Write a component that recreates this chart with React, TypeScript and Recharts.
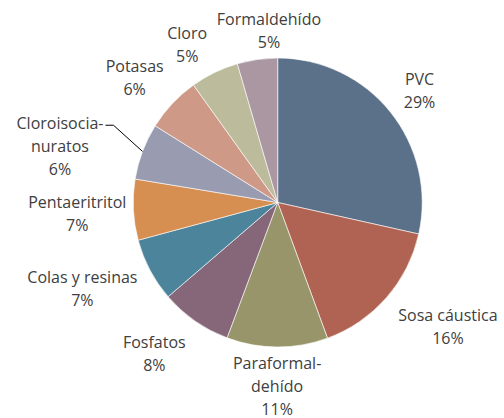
import { PieChart, Pie, Cell } from "recharts";

const products = [
  "PVC",
  "Sosa cáustica",
  "Paraformaldehído",
  "Fosfatos",
  "Colas y resinas",
  "Pentaeritritol",
  "Cloroisocianuratos",
  "Potasas",
  "Cloro",
  "Formaldehído",
];
const shares = [28.5, 15.9, 11.3, 8.0, 7.1, 6.8, 6.3, 6.2, 5.4, 4.5];
const pctLabels = ["29%", "16%", "11%", "8%", "7%", "7%", "6%", "6%", "5%", "5%"];
const nameLines = [
  ["PVC"],
  ["Sosa cáustica"],
  ["Paraformal-", "dehído"],
  ["Fosfatos"],
  ["Colas y resinas"],
  ["Pentaeritritol"],
  ["Cloroisocia-", "nuratos"],
  ["Potasas"],
  ["Cloro"],
  ["Formaldehído"],
];
const colors = [
  "#5b7089",
  "#b06352",
  "#98956a",
  "#866779",
  "#4c849c",
  "#d68f51",
  "#999cb1",
  "#cf9987",
  "#bcbc9c",
  "#ab97a1",
];
const withLeader = ["Cloroisocianuratos"];

const data = products.map((name, i) => ({ name, value: shares[i] }));

const RAD = Math.PI / 180;
const FONT = 16;
const FONT_FAMILY = "'Open Sans', sans-serif";
const LINE_H = 23;
const GAP = 8;
// small shifts so the labels sit where Excel's best-fit put them
const labelNudge = [
  [2, 0],
  [16, -11],
  [0, -4],
  [-15, -4],
  [-8, -13],
  [2, 1],
  [0, 0],
  [-5, 5],
  [-11, 6],
  [17, 9],
];

let ctx: CanvasRenderingContext2D | null = null;
function textWidth(s: string) {
  if (!ctx) {
    ctx = document.createElement("canvas").getContext("2d");
    if (ctx) ctx.font = `${FONT}px ${FONT_FAMILY}`;
  }
  return ctx ? ctx.measureText(s).width : s.length * 8.6;
}

function renderLabel(props: any) {
  const { cx, cy, midAngle, outerRadius, index } = props;
  const lines = [...nameLines[index], pctLabels[index]];
  const w = Math.max(...lines.map(textWidth));
  const h = lines.length * LINE_H;
  const dx = Math.cos(-midAngle * RAD);
  const dy = Math.sin(-midAngle * RAD);
  const leader = withLeader.includes(products[index]);
  let x: number;
  let y: number;
  let line = null;
  if (leader) {
    const sx = cx + outerRadius * dx;
    const sy = cy + outerRadius * dy;
    const a = (-midAngle + 4.5) * RAD;
    const ex = cx + (outerRadius + 37) * Math.cos(a);
    const ey = cy + (outerRadius + 37) * Math.sin(a);
    const tx = ex - 8;
    line = (
      <polyline
        points={`${sx},${sy} ${ex},${ey} ${tx},${ey}`}
        fill="none"
        stroke="#000"
        strokeWidth={1}
      />
    );
    x = tx - 2 - textWidth(nameLines[index][0]) / 2;
    y = ey - 2 + ((lines.length - 1) * LINE_H) / 2;
  } else {
    const r = outerRadius + GAP + (Math.abs(dx) * w) / 2 + (Math.abs(dy) * h) / 2;
    x = cx + r * dx + labelNudge[index][0];
    y = cy + r * dy + labelNudge[index][1];
  }
  const top = y - ((lines.length - 1) * LINE_H) / 2;
  return (
    <g key={`lbl-${index}`}>
      {line}
      <text
        x={x}
        y={top}
        textAnchor="middle"
        dominantBaseline="central"
        fill="#404040"
        fontSize={FONT}
        fontFamily={FONT_FAMILY}
      >
        {lines.map((l, i) => (
          <tspan key={i} x={x} y={top + i * LINE_H}>
            {l}
          </tspan>
        ))}
      </text>
    </g>
  );
}

export default function App() {
  return (
    <div style={{ position: "absolute", left: 0, top: 0, background: "#fff" }}>
      <PieChart width={504} height={418} margin={{ top: 0, right: 0, bottom: 0, left: 0 }}>
        <Pie
          data={data}
          dataKey="value"
          nameKey="name"
          cx={277.7}
          cy={202.5}
          outerRadius={144.5}
          startAngle={90}
          endAngle={-270}
          stroke="#ffffff"
          strokeWidth={0.6}
          label={renderLabel}
          labelLine={false}
          isAnimationActive={false}
        >
          {data.map((d, i) => (
            <Cell key={d.name} fill={colors[i]} />
          ))}
        </Pie>
      </PieChart>
    </div>
  );
}
